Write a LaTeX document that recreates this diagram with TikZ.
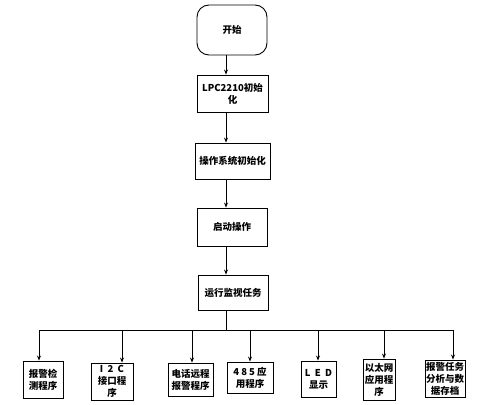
\documentclass[tikz,border=0pt]{standalone}
\usepackage{fontspec}
\setmainfont{Liberation Serif}
\newfontfamily\cjk{Noto Sans CJK SC}
\usetikzlibrary{arrows.meta}
\begin{document}
\begin{tikzpicture}[x=1pt,y=-1pt,
  box/.style={draw,line width=0.9pt,inner sep=1pt,align=center,font=\cjk\bfseries\fontsize{9.5}{12}\selectfont},
  arr/.style={line width=0.8pt,-{Stealth[length=5pt,width=4pt]}},
  ln/.style={line width=0.8pt}]
\useasboundingbox (0,0) rectangle (478,404);
\node[box,rounded corners=12pt,minimum width=70,minimum height=50] (start) at (232,30) {开始};
\node[box,minimum width=71,minimum height=37] (lpc) at (232.5,93.5) {LPC2210初始\\化};
\node[box,minimum width=75,minimum height=36] (os) at (232.5,161) {操作系统初始化};
\node[box,minimum width=70,minimum height=38] (qd) at (232,227) {启动操作};
\node[box,minimum width=70,minimum height=35] (run) at (233,292.5) {运行监视任务};
\coordinate (xa) at (226,0);
\coordinate (bus) at (226,330);
\draw[arr] (start.south -| xa) -- (lpc.north -| xa);
\draw[arr] (lpc.south -| xa) -- (os.north -| xa);
\draw[arr] (os.south -| xa) -- (qd.north -| xa);
\draw[arr] (qd.south -| xa) -- (run.north -| xa);
\draw[ln] (run.south -| xa) -- (bus);
\node[box,minimum width=40,minimum height=37] (b1) at (43,379.5) {报警检\\测程序};
\node[box,minimum width=42,minimum height=37] (b2) at (112,381.5) {I\ \ 2\ \ C\\接口程\\序};
\node[box,minimum width=45,minimum height=33] (b3) at (190.5,379.5) {电话远程\\报警程序};
\node[box,minimum width=46,minimum height=31] (b4) at (250,377.5) {4\ 8\ 5\ 应\\用程序};
\node[box,minimum width=35,minimum height=36] (b5) at (318.5,379) {L\ \ E\ \ D\\显示};
\node[box,minimum width=32,minimum height=41] (b6) at (379,379.5) {以太网\\应用程\\序};
\node[box,minimum width=40,minimum height=37] (b7) at (445,378.5) {报警任务\\分析与数\\据存档};
\coordinate (t1) at (39,330);
\coordinate (t2) at (122,330);
\coordinate (t3) at (192,330);
\coordinate (t4) at (250,330);
\coordinate (t5) at (318,330);
\coordinate (t6) at (384,330);
\coordinate (t7) at (453,330);
\draw[ln] (t1) -- (t7);
\draw[arr] (t1) -- (b1.north -| t1);
\draw[arr] (t2) -- (b2.north -| t2);
\draw[arr] (t3) -- (b3.north -| t3);
\draw[arr] (t4) -- (b4.north -| t4);
\draw[arr] (t5) -- (b5.north -| t5);
\draw[arr] (t6) -- (b6.north -| t6);
\draw[arr] (t7) -- (b7.north -| t7);
\end{tikzpicture}
\end{document}
